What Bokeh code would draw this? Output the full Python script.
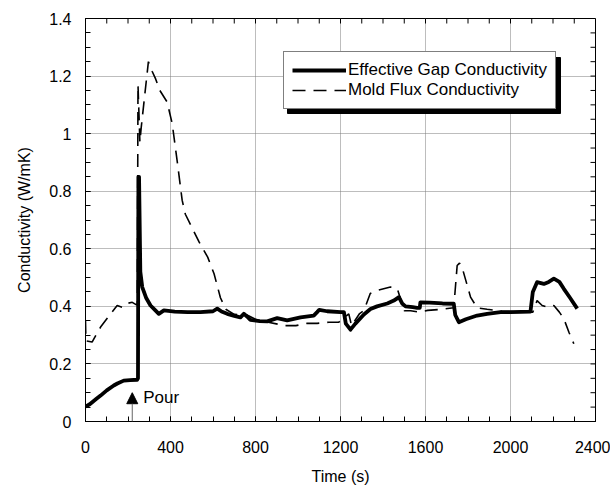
import numpy as np
from bokeh.plotting import figure
from bokeh.models import (Range1d, FixedTicker, Legend, LegendItem,
                          Arrow, NormalHead, Label)
from bokeh.embed import file_html
from bokeh.resources import INLINE

FONT = "Liberation Sans"

# ---------------- data ----------------
t_gap = [0, 20, 50, 71, 100, 133, 150, 180, 210, 243, 247, 249, 252, 258, 267, 285,
         306, 330, 345, 369, 420, 480, 541, 600, 620, 640, 667, 700, 729, 745, 760,
         776, 820, 855, 902, 949, 1012, 1074, 1090, 1100, 1137, 1200, 1216, 1225,
         1247, 1270, 1310, 1341, 1372, 1420, 1451, 1475, 1490, 1506, 1540, 1561,
         1573, 1576, 1620, 1680, 1733, 1740, 1757, 1790, 1843, 1890, 1953, 2000,
         2050, 2094, 2105, 2125, 2157, 2180, 2204, 2230, 2251, 2280, 2314]
k_gap = [0.052, 0.06, 0.078, 0.09, 0.108, 0.125, 0.132, 0.142, 0.144, 0.145, 0.15,
         0.85, 0.85, 0.52, 0.467, 0.43, 0.403, 0.385, 0.374, 0.386, 0.382, 0.38,
         0.38, 0.383, 0.392, 0.382, 0.374, 0.367, 0.362, 0.374, 0.365, 0.353,
         0.349, 0.348, 0.359, 0.351, 0.362, 0.368, 0.38, 0.388, 0.383, 0.38, 0.38,
         0.34, 0.319, 0.34, 0.372, 0.391, 0.40, 0.41, 0.42, 0.432, 0.41, 0.40,
         0.397, 0.395, 0.395, 0.414, 0.413, 0.41, 0.409, 0.37, 0.345, 0.355, 0.368,
         0.374, 0.38, 0.38, 0.381, 0.382, 0.45, 0.484, 0.478, 0.485, 0.496, 0.485,
         0.461, 0.43, 0.392]

t_flux = [0, 2, 31, 71, 118, 149, 173, 188, 220, 240, 244, 247, 256, 262, 296, 314,
          330, 350, 384, 408, 431, 455, 470, 535, 575, 605, 635, 660, 700, 760, 800,
          860, 940, 990, 1043, 1090, 1145, 1192, 1239, 1252, 1290, 1310, 1340, 1372,
          1435, 1467, 1485, 1500, 1530, 1570, 1610, 1680, 1733, 1749, 1760, 1772,
          1812, 1843, 1890, 1960, 2050, 2105, 2125, 2149, 2175, 2204, 2230, 2251,
          2275, 2298]
k_flux = [0.35, 0.28, 0.276, 0.328, 0.374, 0.403, 0.397, 0.409, 0.414, 0.405, 0.41,
          1.17, 0.97, 1.02, 1.25, 1.216, 1.19, 1.15, 1.11, 1.035, 0.907, 0.768,
          0.72, 0.623, 0.571, 0.513, 0.43, 0.39, 0.372, 0.37, 0.355, 0.345, 0.333,
          0.333, 0.341, 0.341, 0.345, 0.345, 0.374, 0.333, 0.375, 0.385, 0.445,
          0.455, 0.467, 0.462, 0.42, 0.385, 0.385, 0.38, 0.386, 0.39, 0.395, 0.542,
          0.55, 0.536, 0.432, 0.395, 0.39, 0.383, 0.38, 0.38, 0.42, 0.403, 0.397,
          0.403, 0.38, 0.357, 0.31, 0.27]

series_names = ["Effective Gap Conductivity", "Mold Flux Conductivity"]

x_ticks = [0, 400, 800, 1200, 1600, 2000, 2400]
x_tick_labels = ["0", "400", "800", "1200", "1600", "2000", "2400"]
y_ticks = [0, 0.2, 0.4, 0.6, 0.8, 1.0, 1.2, 1.4]
y_tick_labels = ["0", "0.2", "0.4", "0.6", "0.8", "1", "1.2", "1.4"]

pour_time = 220
pour_text = "Pour"

x_title = "Time (s)"
y_title = "Conductivity (W/mK)"

# ---------------- figure ----------------
ML, MR, MT, MB = 85, 15, 18, 68
FW, FH = 510, 403
W, H = ML + FW + MR, MT + FH + MB
X0, X1, Y0, Y1 = 0, 2400, 0, 1.4

p = figure(width=W, height=H, output_backend="svg", toolbar_location=None,
           x_range=Range1d(X0, X1), y_range=Range1d(Y0, Y1),
           min_border_left=ML, min_border_right=MR, min_border_top=MT,
           min_border_bottom=MB, x_axis_label=x_title, y_axis_label=y_title)
p.background_fill_color = "white"
p.border_fill_color = "white"
p.outline_line_color = "black"
p.outline_line_width = 1

x_minor = [float(v) for v in np.arange(X0, X1 + 1, 100)]
y_minor = [round(float(v), 3) for v in np.arange(Y0, Y1 + 0.001, 0.05)]

xt = FixedTicker(ticks=x_ticks, minor_ticks=x_minor)
yt = FixedTicker(ticks=y_ticks, minor_ticks=y_minor)

def style_axis(ax, labels):
    ax.major_label_overrides = labels
    ax.axis_line_color = "black"
    ax.major_tick_in = 5
    ax.major_tick_out = 0
    ax.minor_tick_in = 5
    ax.minor_tick_out = 0
    ax.major_tick_line_color = "black"
    ax.minor_tick_line_color = "black"
    ax.major_label_text_font = FONT
    ax.major_label_text_font_size = "16px"
    ax.major_label_text_color = "black"
    ax.axis_label_text_font = FONT
    ax.axis_label_text_font_size = "16px"
    ax.axis_label_text_font_style = "normal"
    ax.axis_label_text_color = "black"

p.xaxis.ticker = xt
p.yaxis.ticker = yt
style_axis(p.xaxis[0], dict(zip(x_ticks, x_tick_labels)))
style_axis(p.yaxis[0], {t: l for t, l in zip(y_ticks, y_tick_labels)})
p.xaxis.major_label_standoff = 19
p.xaxis.axis_label_standoff = 12
p.yaxis.major_label_standoff = 14
p.yaxis.axis_label_standoff = 13

# inward ticks on the top and right edges of the frame
p.ray(x=x_minor, y=[Y1] * len(x_minor), length=5, length_units="screen",
      angle=-np.pi / 2, line_color="black", line_width=1)
p.ray(x=[X1] * len(y_minor), y=y_minor, length=5, length_units="screen",
      angle=np.pi, line_color="black", line_width=1)

for g in (p.xgrid, p.ygrid):
    g.grid_line_color = "#7a7a7a"
    g.grid_line_dash = "1 1"
    g.grid_line_width = 1
p.xgrid.ticker = FixedTicker(ticks=x_ticks)
p.ygrid.ticker = FixedTicker(ticks=y_ticks)

r_gap = p.line(t_gap, k_gap, line_color="black", line_width=3.8, line_join="round")
r_flux = p.line(t_flux, k_flux, line_color="black", line_width=1.6, line_dash="13 8")

# legend with drop shadow
LEG_LEFT, LEG_BOTTOM = 198, 312   # screen px from frame bottom-left
LEG_W, LEG_H = 273, 56
SH = 4
sx = (X1 - X0) / FW
sy = (Y1 - Y0) / FH
p.quad(left=[(LEG_LEFT + SH) * sx], right=[(LEG_LEFT + LEG_W + SH) * sx],
       bottom=[(LEG_BOTTOM - SH) * sy], top=[(LEG_BOTTOM + LEG_H - SH) * sy],
       fill_color="black", line_color="black")

legend = Legend(items=[LegendItem(label=series_names[0], renderers=[r_gap]),
                       LegendItem(label=series_names[1], renderers=[r_flux])],
                location=(LEG_LEFT, LEG_BOTTOM))
legend.border_line_color = "black"
legend.border_line_width = 1.5
legend.background_fill_color = "white"
legend.background_fill_alpha = 1
legend.padding = 8
legend.spacing = 0
legend.margin = 0
legend.label_height = 20
legend.glyph_height = 20
legend.glyph_width = 54
legend.label_standoff = 2
legend.label_text_font = FONT
legend.label_text_font_size = "17px"
legend.label_text_color = "black"
p.add_layout(legend, "center")

# Pour annotation
p.add_layout(Arrow(x_start=pour_time, y_start=0, x_end=pour_time, y_end=0.1,
                   line_color="#666666", line_width=1,
                   end=NormalHead(size=11, fill_color="black", line_color="black")))
p.add_layout(Label(x=pour_time, y=0.082, x_offset=11, text=pour_text,
                   text_font=FONT, text_font_size="17px", text_baseline="middle",
                   text_color="black"))

open("out.html", "w").write(file_html(p, INLINE))
